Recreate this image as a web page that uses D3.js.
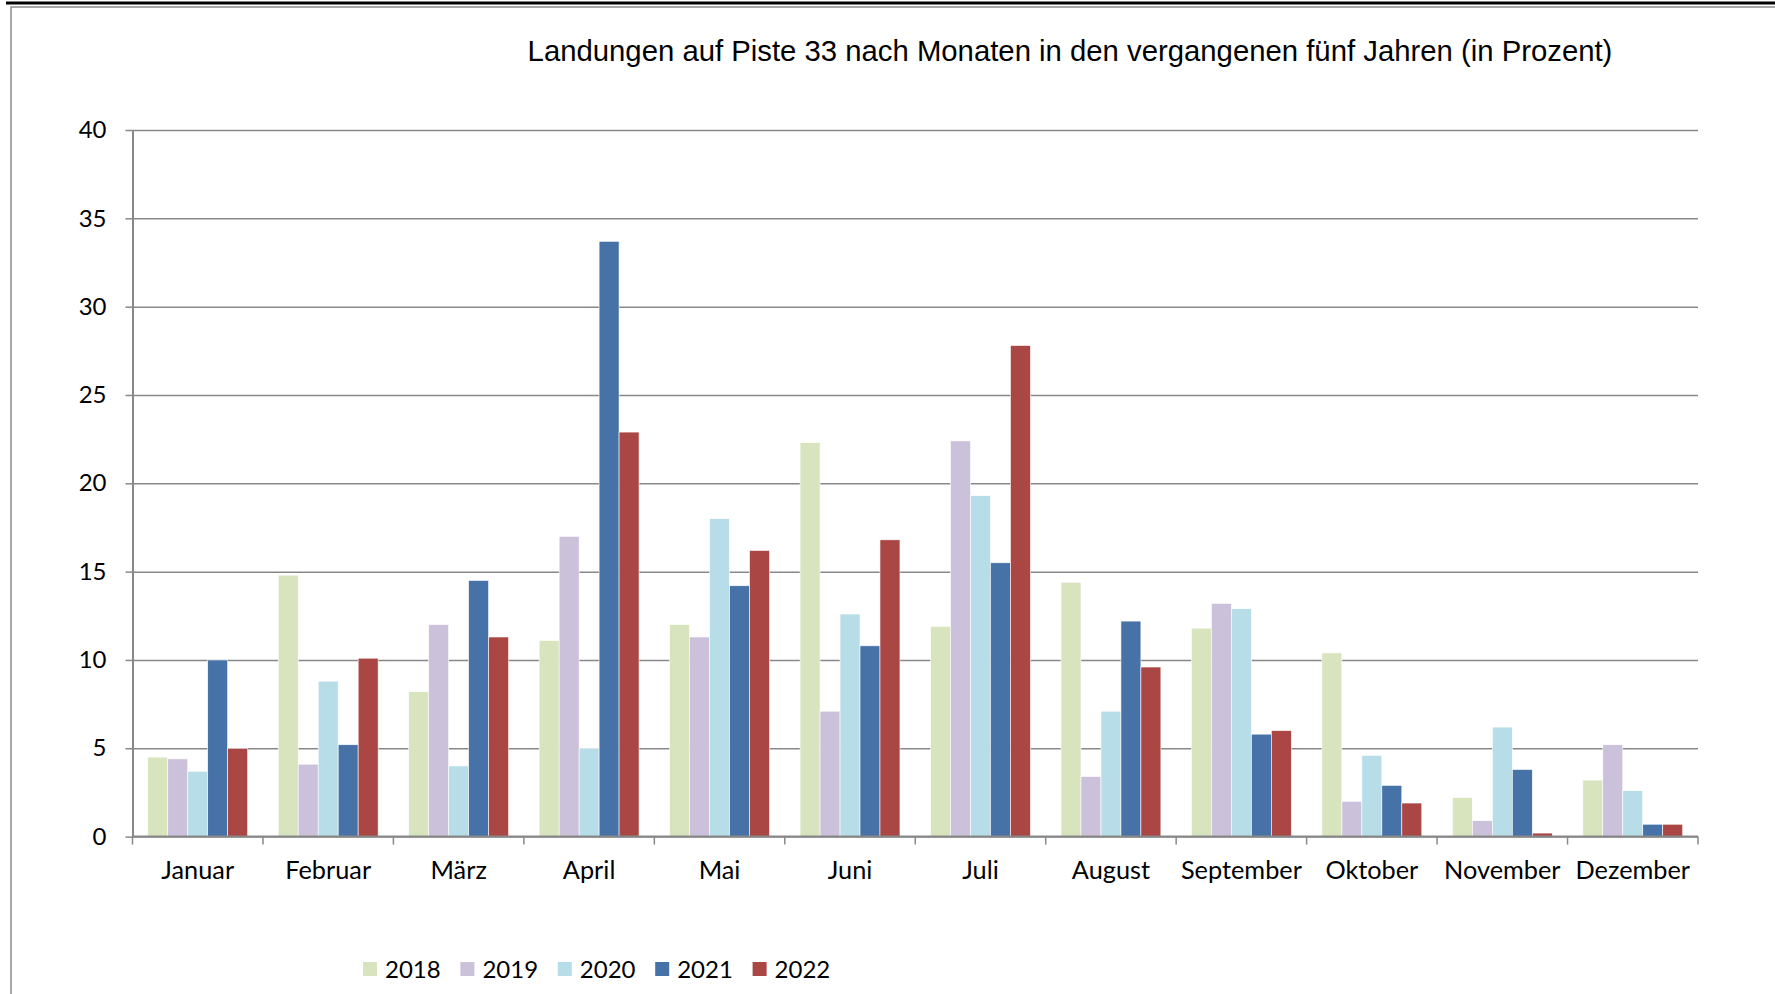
<!DOCTYPE html>
<html>
<head>
<meta charset="utf-8">
<script src="https://cdn.jsdelivr.net/npm/d3@7"></script>
<style>
  body { margin: 0; background: #fff; }
</style>
</head>
<body>
<div id="main"></div>
<script>
const months = ["Januar", "Februar", "März", "April", "Mai", "Juni", "Juli", "August", "September", "Oktober", "November", "Dezember"];
const years = ["2018", "2019", "2020", "2021", "2022"];
const v2018 = [4.5, 14.8, 8.2, 11.1, 12.0, 22.3, 11.9, 14.4, 11.8, 10.4, 2.2, 3.2];
const v2019 = [4.4, 4.1, 12.0, 17.0, 11.3, 7.1, 22.4, 3.4, 13.2, 2.0, 0.9, 5.2];
const v2020 = [3.7, 8.8, 4.0, 5.0, 18.0, 12.6, 19.3, 7.1, 12.9, 4.6, 6.2, 2.6];
const v2021 = [10.0, 5.2, 14.5, 33.7, 14.2, 10.8, 15.5, 12.2, 5.8, 2.9, 3.8, 0.7];
const v2022 = [5.0, 10.1, 11.3, 22.9, 16.2, 16.8, 27.8, 9.6, 6.0, 1.9, 0.2, 0.7];
const yTicks = [0, 5, 10, 15, 20, 25, 30, 35, 40];
const title = "Landungen auf Piste 33 nach Monaten in den vergangenen fünf Jahren (in Prozent)";

const series = [v2018, v2019, v2020, v2021, v2022];
const colors = ["#D7E4BD", "#CCC1DA", "#B7DEE8", "#4672A8", "#AA4643"];

const width = 1775;
const height = 994;
const margin = { top: 130, right: 77, bottom: 157.4, left: 132.5 };
const labelFont = "Lato, 'Open Sans', sans-serif";

const svg = d3.select("#main").append("svg").attr("width", width).attr("height", height);

// frame
svg.append("line")
  .attr("x1", 6).attr("x2", width).attr("y1", 3).attr("y2", 3)
  .attr("stroke", "#000").attr("stroke-width", 3);
svg.append("path")
  .attr("d", `M11,${height} V7 H${width}`)
  .attr("fill", "none").attr("stroke", "#8a8a8a").attr("stroke-width", 1.5);

svg.append("text")
  .attr("x", 1070)
  .attr("y", 61)
  .attr("text-anchor", "middle")
  .style("font-family", "'Liberation Sans', Arial, sans-serif")
  .style("font-size", "29.3px")
  .style("fill", "#000")
  .text(title);

const x = d3.scaleBand().domain(months).range([margin.left, width - margin.right]);
const xInner = d3.scaleBand().domain(years).range([0, x.bandwidth()]).paddingOuter(0.765);
const y = d3.scaleLinear().domain([0, 40]).range([height - margin.bottom, margin.top]);

// gridlines
svg.append("g")
  .attr("transform", `translate(${margin.left},0)`)
  .call(d3.axisLeft(y).tickValues(yTicks).tickSize(-(width - margin.left - margin.right)).tickFormat(""))
  .call((g) => g.select(".domain").remove())
  .call((g) => g.selectAll("line").attr("stroke", "#888").attr("stroke-width", 1.5));

// bars
const rows = [];
months.forEach((m, i) => {
  years.forEach((yr, j) => {
    rows.push({ month: m, year: yr, value: series[j][i], color: colors[j] });
  });
});

svg.append("g")
  .selectAll("rect")
  .data(rows)
  .enter()
  .append("rect")
  .attr("x", (d) => x(d.month) + xInner(d.year))
  .attr("y", (d) => y(d.value))
  .attr("width", xInner.bandwidth())
  .attr("height", (d) => y(0) - y(d.value))
  .attr("fill", (d) => d.color)
  .attr("stroke", "#fff")
  .attr("stroke-width", 0.6);

// y axis
svg.append("g")
  .attr("transform", `translate(${margin.left},0)`)
  .call(d3.axisLeft(y).tickValues(yTicks).tickSize(7).tickSizeOuter(0).tickPadding(19))
  .call((g) => g.select(".domain").attr("stroke", "#888").attr("stroke-width", 2))
  .call((g) => g.selectAll("line").attr("stroke", "#888").attr("stroke-width", 1.5))
  .call((g) => g.selectAll("text").style("font-family", labelFont).style("font-size", "24px").attr("fill", "#000"));

// x axis
const xAxisG = svg.append("g").attr("transform", `translate(0,${y(0)})`);
xAxisG.append("line")
  .attr("x1", margin.left).attr("x2", width - margin.right)
  .attr("stroke", "#888").attr("stroke-width", 2);
const bounds = months.map((m) => x(m)).concat([x.range()[1]]);
xAxisG.selectAll(".bound")
  .data(bounds)
  .enter()
  .append("line")
  .attr("class", "bound")
  .attr("x1", (d) => d).attr("x2", (d) => d)
  .attr("y1", 0).attr("y2", 8)
  .attr("stroke", "#888").attr("stroke-width", 1.5);
xAxisG.call(d3.axisBottom(x).tickSize(0).tickPadding(24))
  .call((g) => g.select(".domain").remove())
  .call((g) => g.selectAll("text").style("font-family", labelFont).style("font-size", "25.3px").attr("fill", "#000"));

// legend
const legend = svg.append("g").attr("transform", "translate(363,962)");
years.forEach((yr, j) => {
  const item = legend.append("g").attr("transform", `translate(${j * 97.4},0)`);
  item.append("rect").attr("width", 14).attr("height", 14).attr("fill", colors[j]);
  item.append("text")
    .attr("x", 22)
    .attr("y", 16)
    .style("font-family", labelFont)
    .style("font-size", "24px")
    .text(yr);
});
</script>
</body>
</html>
